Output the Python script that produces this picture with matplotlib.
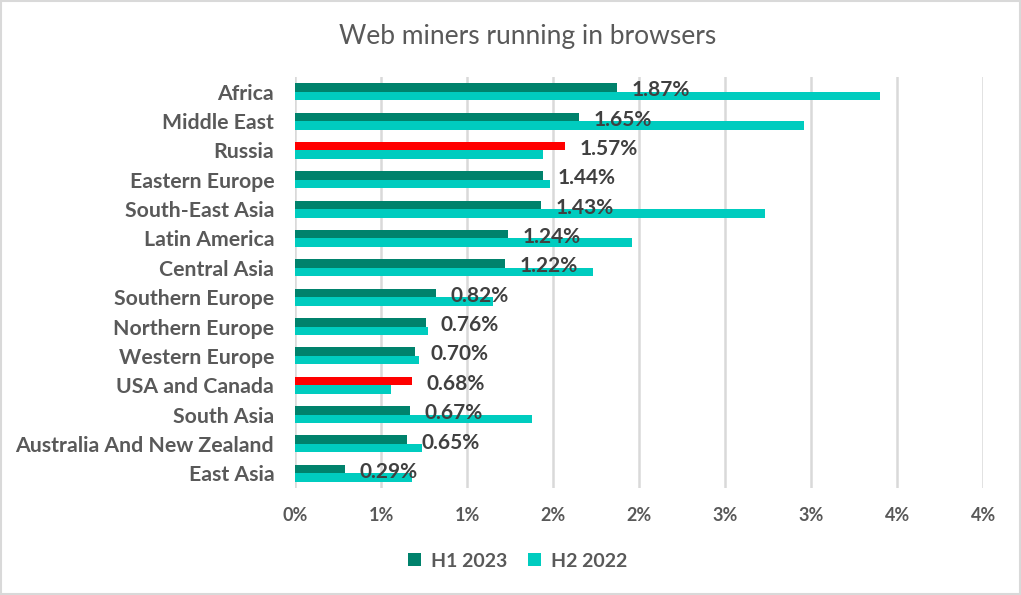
import numpy as np
import matplotlib
matplotlib.use("Agg")
import matplotlib.pyplot as plt
from matplotlib.patches import Rectangle

regions = ["Africa", "Middle East", "Russia", "Eastern Europe", "South-East Asia",
           "Latin America", "Central Asia", "Southern Europe", "Northern Europe",
           "Western Europe", "USA and Canada", "South Asia",
           "Australia And New Zealand", "East Asia"]
h1_2023 = [1.87, 1.65, 1.57, 1.44, 1.43, 1.24, 1.22, 0.82, 0.76, 0.70, 0.68, 0.67, 0.65, 0.29]
h2_2022 = [3.40, 2.96, 1.44, 1.48, 2.73, 1.96, 1.73, 1.15, 0.77, 0.72, 0.56, 1.38, 0.74, 0.68]
highlight = ["Russia", "USA and Canada"]
tick_vals = [0, 0.5, 1.0, 1.5, 2.0, 2.5, 3.0, 3.5, 4.0]
tick_labels = ["0%", "1%", "1%", "2%", "2%", "3%", "3%", "4%", "4%"]

c_h1 = "#00826C"
c_h2 = "#00CCBF"
c_red = "#FF0000"
txt = "#595959"

plt.rcParams['font.family'] = ['Lato', 'DejaVu Sans']

fig = plt.figure(figsize=(10.21, 5.95), dpi=100)
ax = fig.add_axes([0.289, 0.1798, 0.674, 0.6908])

y = np.arange(len(regions))
bh = 0.29
cols = [c_red if r in highlight else c_h1 for r in regions]
ax.barh(y - bh / 2, h1_2023, height=bh, color=cols, label="H1 2023", zorder=3)
ax.barh(y + bh / 2, h2_2022, height=bh, color=c_h2, label="H2 2022", zorder=3)

for yi, v in zip(y, h1_2023):
    ax.annotate(f"{v:.2f}%", (v, yi - 0.05), xytext=(10.5, 0), textcoords="offset points",
                va="center", ha="left", fontsize=15, fontweight="bold",
                color="#404040", zorder=4)

ax.set_xlim(0, 4.0)
ax.set_ylim(len(regions) - 0.5, -0.5)
ax.set_xticks(tick_vals)
ax.set_xticklabels(tick_labels)
ax.set_yticks(y)
ax.set_yticklabels(regions)
ax.tick_params(axis="x", length=0, colors=txt, labelsize=13, pad=14)
ax.tick_params(axis="y", length=0, colors=txt, labelsize=15.3, pad=15)
for lab in ax.get_xticklabels() + ax.get_yticklabels():
    lab.set_fontweight("bold")
ax.xaxis.grid(True, color="#D9D9D9", linewidth=1.8, zorder=0)
for s in ax.spines.values():
    s.set_visible(False)

fig.suptitle("Web miners running in browsers", x=0.517, y=0.96, fontsize=19, color=txt)

leg = fig.legend(loc="center", bbox_to_anchor=(0.507, 0.057), ncol=2, frameon=False,
                 fontsize=14, handlelength=0.65, handleheight=0.65, columnspacing=1.1,
                 handletextpad=0.5)
for t in leg.get_texts():
    t.set_color(txt)
    t.set_fontweight("bold")

fig.patches.append(Rectangle((0.001, 0.001), 0.998, 0.997, transform=fig.transFigure,
                             fill=False, edgecolor="#D9D9D9", linewidth=1.5))

fig.savefig("out.png", dpi=100)
